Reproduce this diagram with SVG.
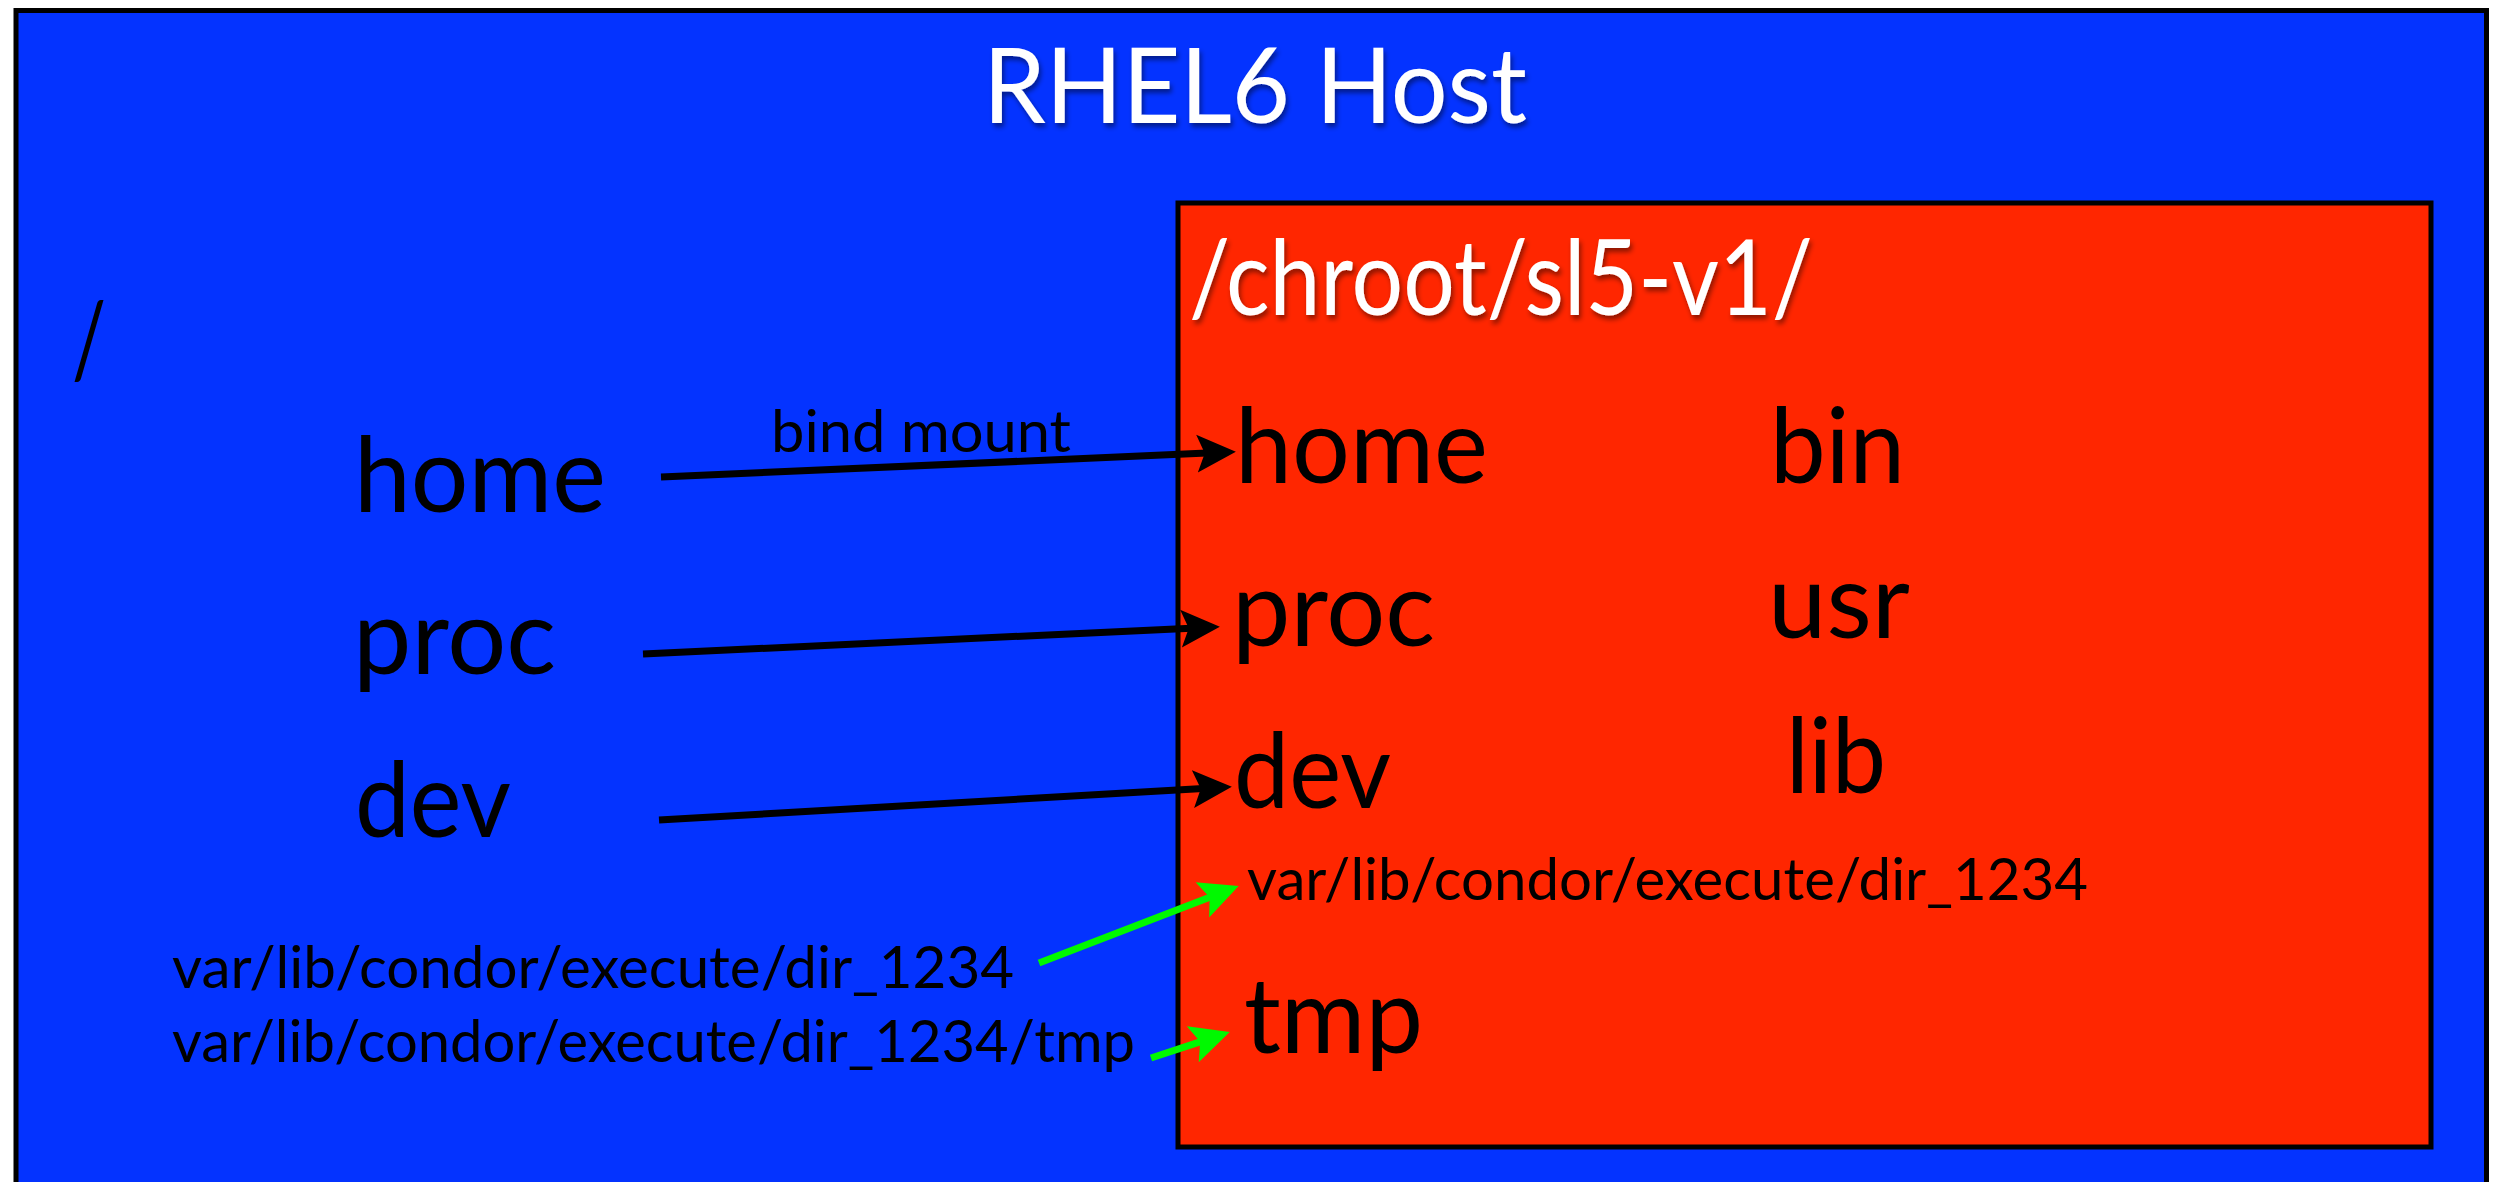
<svg xmlns="http://www.w3.org/2000/svg" width="2507" height="1182" viewBox="0 0 2507 1182">
  <style>
    .t { font-family: Lato, "Liberation Sans", sans-serif; }
    .big { font-size: 104px; }
    .small { font-size: 58px; }
    .blk { fill: #000; }
    .wht { fill: #fff; filter: url(#shadow); }
    .conn { stroke: #000; stroke-width: 7; fill: none; marker-end: url(#headBlack); }
    .conng { stroke: #00f900; stroke-width: 7; fill: none; marker-end: url(#headGreen); }
  </style>
  <defs>
    <filter id="shadow" x="-10%" y="-20%" width="120%" height="150%">
      <feDropShadow dx="2" dy="4" stdDeviation="2.5" flood-color="#000" flood-opacity="0.45"/>
    </filter>
    <marker id="headBlack" markerUnits="userSpaceOnUse" markerWidth="40" markerHeight="40" viewBox="0 0 36 34" refX="9" refY="17" orient="auto">
      <path d="M0,0 L35,17 L0,34 L7,17 Z" fill="#000"/>
    </marker>
    <marker id="headGreen" markerUnits="userSpaceOnUse" markerWidth="40" markerHeight="40" viewBox="0 0 36 34" refX="9" refY="17" orient="auto">
      <path d="M0,0 L35,17 L0,34 L7,17 Z" fill="#00f900"/>
    </marker>
  </defs>

  <g id="host">
    <rect x="16" y="10.5" width="2470.5" height="1200" fill="#0433ff" stroke="#000" stroke-width="5"/>
    <text class="t big wht" x="983" y="123" textLength="544" lengthAdjust="spacingAndGlyphs">RHEL6 Host</text>
    <text class="t big blk" x="72" y="377" textLength="34" lengthAdjust="spacingAndGlyphs">/</text>
  </g>

  <g id="chroot">
    <rect x="1178" y="203" width="1253" height="944" fill="#ff2600" stroke="#000" stroke-width="5"/>
    <text class="t big wht" x="1189" y="315" textLength="624" lengthAdjust="spacingAndGlyphs">/chroot/sl5-v1/</text>
  </g>

  <g id="host-home"><text class="t big blk" x="354" y="512" textLength="252" lengthAdjust="spacingAndGlyphs">home</text></g>
  <g id="host-proc"><text class="t big blk" x="353" y="674" textLength="203" lengthAdjust="spacingAndGlyphs">proc</text></g>
  <g id="host-dev"><text class="t big blk" x="355" y="837" textLength="156" lengthAdjust="spacingAndGlyphs">dev</text></g>
  <g id="host-exec"><text class="t small blk" x="172" y="988" textLength="842" lengthAdjust="spacingAndGlyphs">var/lib/condor/execute/dir_1234</text></g>
  <g id="host-exec-tmp"><text class="t small blk" x="172" y="1062" textLength="963" lengthAdjust="spacingAndGlyphs">var/lib/condor/execute/dir_1234/tmp</text></g>

  <g id="chroot-home"><text class="t big blk" x="1235" y="483" textLength="253" lengthAdjust="spacingAndGlyphs">home</text></g>
  <g id="chroot-bin"><text class="t big blk" x="1770" y="483" textLength="135" lengthAdjust="spacingAndGlyphs">bin</text></g>
  <g id="chroot-proc"><text class="t big blk" x="1232" y="646" textLength="203" lengthAdjust="spacingAndGlyphs">proc</text></g>
  <g id="chroot-usr"><text class="t big blk" x="1768" y="638" textLength="142" lengthAdjust="spacingAndGlyphs">usr</text></g>
  <g id="chroot-dev"><text class="t big blk" x="1234" y="808" textLength="157" lengthAdjust="spacingAndGlyphs">dev</text></g>
  <g id="chroot-lib"><text class="t big blk" x="1786" y="793" textLength="100" lengthAdjust="spacingAndGlyphs">lib</text></g>
  <g id="chroot-exec"><text class="t small blk" x="1247" y="900" textLength="841" lengthAdjust="spacingAndGlyphs">var/lib/condor/execute/dir_1234</text></g>
  <g id="chroot-tmp"><text class="t big blk" x="1244" y="1053" textLength="179" lengthAdjust="spacingAndGlyphs">tmp</text></g>

  <g id="connectors">
    <line class="conn" x1="661" y1="477" x2="1207" y2="453.1"/>
    <text class="t small blk" x="771" y="452" textLength="300" lengthAdjust="spacingAndGlyphs">bind mount</text>
    <line class="conn" x1="643" y1="654" x2="1191" y2="628.2"/>
    <line class="conn" x1="659" y1="820" x2="1203" y2="788.5"/>
    <line class="conng" x1="1039" y1="963" x2="1211.7" y2="896.4"/>
    <line class="conng" x1="1151" y1="1058" x2="1202.3" y2="1041.1"/>
  </g>
</svg>
